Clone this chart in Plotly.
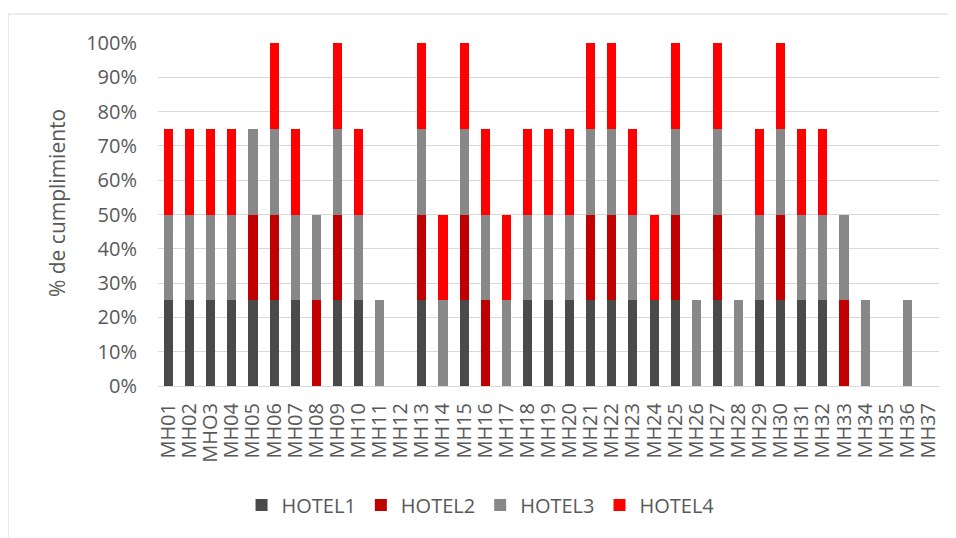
import plotly.graph_objects as go

### Data: share of compliance per hotel (each hotel adds 25%)
labels = ["MH01", "MH02", "MHO3", "MH04", "MH05", "MH06", "MH07", "MH08", "MH09", "MH10",
          "MH11", "MH12", "MH13", "MH14", "MH15", "MH16", "MH17", "MH18", "MH19", "MH20",
          "MH21", "MH22", "MH23", "MH24", "MH25", "MH26", "MH27", "MH28", "MH29", "MH30",
          "MH31", "MH32", "MH33", "MH34", "MH35", "MH36", "MH37"]

hotel1 = [0.25, 0.25, 0.25, 0.25, 0.25, 0.25, 0.25, 0, 0.25, 0.25,
          0, 0, 0.25, 0, 0.25, 0, 0, 0.25, 0.25, 0.25,
          0.25, 0.25, 0.25, 0.25, 0.25, 0, 0.25, 0, 0.25, 0.25,
          0.25, 0.25, 0, 0, 0, 0, 0]
hotel2 = [0, 0, 0, 0, 0.25, 0.25, 0, 0.25, 0.25, 0,
          0, 0, 0.25, 0, 0.25, 0.25, 0, 0, 0, 0,
          0.25, 0.25, 0, 0, 0.25, 0, 0.25, 0, 0, 0.25,
          0, 0, 0.25, 0, 0, 0, 0]
hotel3 = [0.25, 0.25, 0.25, 0.25, 0.25, 0.25, 0.25, 0.25, 0.25, 0.25,
          0.25, 0, 0.25, 0.25, 0.25, 0.25, 0.25, 0.25, 0.25, 0.25,
          0.25, 0.25, 0.25, 0, 0.25, 0.25, 0.25, 0.25, 0.25, 0.25,
          0.25, 0.25, 0.25, 0.25, 0, 0.25, 0]
hotel4 = [0.25, 0.25, 0.25, 0.25, 0, 0.25, 0.25, 0, 0.25, 0.25,
          0, 0, 0.25, 0.25, 0.25, 0.25, 0.25, 0.25, 0.25, 0.25,
          0.25, 0.25, 0.25, 0.25, 0.25, 0, 0.25, 0, 0.25, 0.25,
          0.25, 0.25, 0, 0, 0, 0, 0]

series = [("HOTEL1", hotel1, "#4A4A4A"),
          ("HOTEL2", hotel2, "#C00000"),
          ("HOTEL3", hotel3, "#888888"),
          ("HOTEL4", hotel4, "#FF0000")]

FONT = "Open Sans"
TXT = "#595959"

fig = go.Figure()
for name, vals, color in series:
    fig.add_trace(go.Bar(name=name, x=labels, y=vals, marker_color=color,
                         marker_line_width=0))

fig.update_layout(
    barmode="stack",
    bargap=0.57,
    width=956,
    height=538,
    margin=dict(l=150, r=25, t=35, b=160, autoexpand=False),
    plot_bgcolor="white",
    paper_bgcolor="white",
    font=dict(family=FONT, color=TXT, size=18),
    showlegend=True,
    legend=dict(orientation="h", x=0.413, xanchor="center",
                y=-0.347, yanchor="middle", font=dict(size=20, color=TXT),
                traceorder="normal"),
)
fig.update_yaxes(range=[0, 1], dtick=0.1, tickformat=".0%", showgrid=True,
                 gridcolor="#D9D9D9", gridwidth=1, zeroline=False,
                 tickfont=dict(size=20, color=TXT), ticks="", ticklen=0,
                 ticklabelstandoff=20)
fig.update_xaxes(tickmode="array", tickvals=labels, ticktext=labels, tickangle=-90,
                 tickfont=dict(size=20, color=TXT), showline=True,
                 linecolor="#D9D9D9", linewidth=1, ticks="", ticklabelstandoff=8)

# y axis title, placed a little above the plot centre like the original
fig.add_annotation(text="% de cumplimiento", textangle=-90, xref="paper", yref="paper",
                   x=-0.129, y=0.534, xanchor="center", yanchor="middle",
                   showarrow=False, font=dict(size=21, color=TXT))

# outer chart border (left and top edges visible)
fig.add_shape(type="line", xref="paper", yref="paper", x0=-0.192, x1=-0.192,
              y0=-0.47, y1=1.0845, line=dict(color="#D9D9D9", width=1))
fig.add_shape(type="line", xref="paper", yref="paper", x0=-0.192, x1=1.05,
              y0=1.0845, y1=1.0845, line=dict(color="#D9D9D9", width=1))

fig.write_html("out.html")
